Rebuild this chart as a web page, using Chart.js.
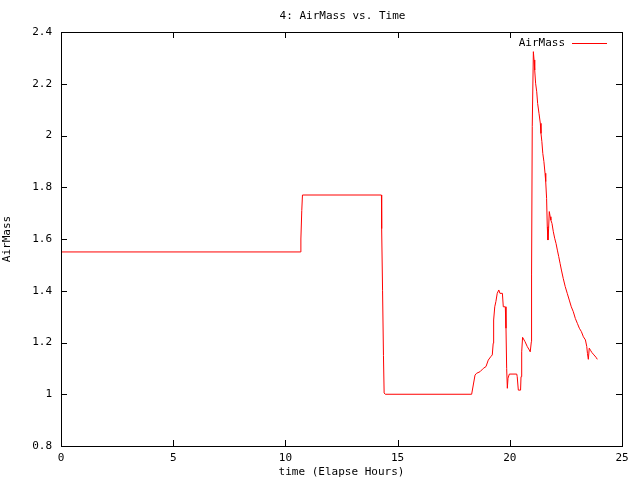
<!DOCTYPE html>
<html>
<head>
<meta charset="utf-8">
<script src="https://cdn.jsdelivr.net/npm/chart.js@4"></script>
<style>
  html, body { margin: 0; padding: 0; background: #fff; }
  #c { display: block; }
</style>
</head>
<body>
<canvas id="c" width="640" height="480"></canvas>
<script>
// AirMass vs. elapsed time (hours)
const hours = [
  0, 10.68, 10.69, 10.73, 10.76, 14.28, 14.29, 14.33, 14.37, 14.40, 14.45, 18.30,
  18.45, 18.52, 18.67, 18.82, 18.94, 19.04, 19.15, 19.22, 19.26, 19.28, 19.33, 19.38,
  19.44, 19.51, 19.56, 19.67, 19.71, 19.80, 19.83, 19.86, 19.89, 19.92, 19.98, 20.31,
  20.33, 20.38, 20.48, 20.50, 20.53, 20.57, 20.68, 20.78, 20.87, 20.91, 20.96, 20.97,
  21.00, 21.05, 21.08, 21.11, 21.15, 21.20, 21.24, 21.30, 21.36, 21.39, 21.43, 21.47,
  21.52, 21.57, 21.60, 21.64, 21.67, 21.70, 21.73, 21.76, 21.80, 21.83, 21.88, 21.94,
  22.00, 22.06, 22.12, 22.18, 22.24, 22.30, 22.38, 22.47, 22.56, 22.65, 22.74, 22.83,
  22.92, 23.01, 23.10, 23.19, 23.28, 23.37, 23.43, 23.46, 23.50, 23.54, 23.61, 23.66,
  23.75, 23.84, 23.90
];
const airMass = [
  1.55, 1.55, 1.60, 1.71, 1.77, 1.77, 1.64, 1.40, 1.15, 1.005, 1.00, 1.00,
  1.074, 1.081, 1.087, 1.10, 1.107, 1.132, 1.145, 1.152, 1.197, 1.287, 1.338, 1.358,
  1.39, 1.403, 1.39, 1.39, 1.338, 1.338, 1.255, 1.10, 1.023, 1.062, 1.078, 1.078,
  1.068, 1.016, 1.016, 1.068, 1.164, 1.22, 1.203, 1.184, 1.171, 1.164, 1.203, 1.461,
  2.034, 2.324, 2.292, 2.253, 2.202, 2.169, 2.124, 2.086, 2.047, 2.008, 1.976, 1.931,
  1.899, 1.854, 1.822, 1.757, 1.648, 1.596, 1.641, 1.706, 1.686, 1.673, 1.66, 1.628,
  1.603, 1.583, 1.557, 1.532, 1.506, 1.48, 1.448, 1.416, 1.39, 1.364, 1.338, 1.319,
  1.293, 1.274, 1.255, 1.242, 1.222, 1.21, 1.184, 1.158, 1.135, 1.178, 1.168, 1.161,
  1.152, 1.143, 1.135
];
const xTicks = [0, 5, 10, 15, 20, 25];
const yTicks = [0.8, 1, 1.2, 1.4, 1.6, 1.8, 2, 2.2, 2.4];

const chartTitle = '4: AirMass vs. Time';
const seriesName = 'AirMass';
const FONT = '"DejaVu Sans Mono", monospace';

// frame, inward ticks on all four sides, title and in-plot legend
const gnuplotLook = {
  id: 'gnuplotLook',
  afterDraw(chart) {
    const { ctx, chartArea: a, scales } = chart;
    const len = 6;
    ctx.save();
    ctx.strokeStyle = '#000';
    ctx.lineWidth = 1;
    ctx.beginPath();
    xTicks.forEach(v => {
      const px = Math.round(scales.x.getPixelForValue(v)) + 0.5;
      ctx.moveTo(px, a.bottom); ctx.lineTo(px, a.bottom - len);
      ctx.moveTo(px, a.top); ctx.lineTo(px, a.top + len);
    });
    yTicks.forEach(v => {
      const py = Math.round(scales.y.getPixelForValue(v)) + 0.5;
      ctx.moveTo(a.left, py); ctx.lineTo(a.left + len, py);
      ctx.moveTo(a.right, py); ctx.lineTo(a.right - len, py);
    });
    ctx.stroke();
    ctx.strokeRect(Math.round(a.left) + 0.5, Math.round(a.top) + 0.5,
      Math.round(a.right - a.left), Math.round(a.bottom - a.top));

    ctx.fillStyle = '#000';
    ctx.font = '11px ' + FONT;
    ctx.textBaseline = 'middle';
    ctx.textAlign = 'center';
    ctx.fillText(chartTitle, (a.left + a.right) / 2 + 1, 16);

    ctx.textAlign = 'right';
    ctx.fillText(seriesName, a.right - 57, 43);
    ctx.strokeStyle = '#ff0000';
    ctx.beginPath();
    ctx.moveTo(a.right - 50, 43.5);
    ctx.lineTo(a.right - 15, 43.5);
    ctx.stroke();
    ctx.restore();
  }
};

new Chart(document.getElementById('c'), {
  type: 'line',
  data: {
    datasets: [{
      label: seriesName,
      data: hours.map((h, i) => ({ x: h, y: airMass[i] })),
      borderColor: '#ff0000',
      borderWidth: 1,
      pointRadius: 0,
      tension: 0,
      fill: false
    }]
  },
  options: {
    responsive: false,
    animation: false,
    events: [],
    layout: { padding: { top: 32, right: 18, left: 0, bottom: 0 } },
    plugins: {
      legend: { display: false },
      title: { display: false },
      tooltip: { enabled: false }
    },
    scales: {
      x: {
        type: 'linear',
        min: 0,
        max: 25,
        afterFit: s => { s.height = 34; },
        afterBuildTicks: s => { s.ticks = xTicks.map(v => ({ value: v })); },
        grid: { display: false, drawTicks: false },
        border: { display: false },
        ticks: {
          color: '#000',
          font: { family: FONT, size: 11 },
          padding: 6,
          maxRotation: 0,
          callback: v => String(v)
        },
        title: {
          display: true,
          text: 'time (Elapse Hours)',
          color: '#000',
          font: { family: FONT, size: 11 },
          padding: { top: 0, bottom: 1 }
        }
      },
      y: {
        min: 0.8,
        max: 2.4,
        afterFit: s => { s.width = 61; },
        afterBuildTicks: s => { s.ticks = yTicks.map(v => ({ value: v })); },
        grid: { display: false, drawTicks: false },
        border: { display: false },
        ticks: {
          color: '#000',
          font: { family: FONT, size: 11 },
          padding: 9,
          callback: v => String(Math.round(v * 10) / 10)
        },
        title: {
          display: true,
          text: 'AirMass',
          color: '#000',
          font: { family: FONT, size: 11 },
          padding: { top: 1, bottom: 0 }
        }
      }
    }
  },
  plugins: [gnuplotLook]
});
</script>
</body>
</html>
